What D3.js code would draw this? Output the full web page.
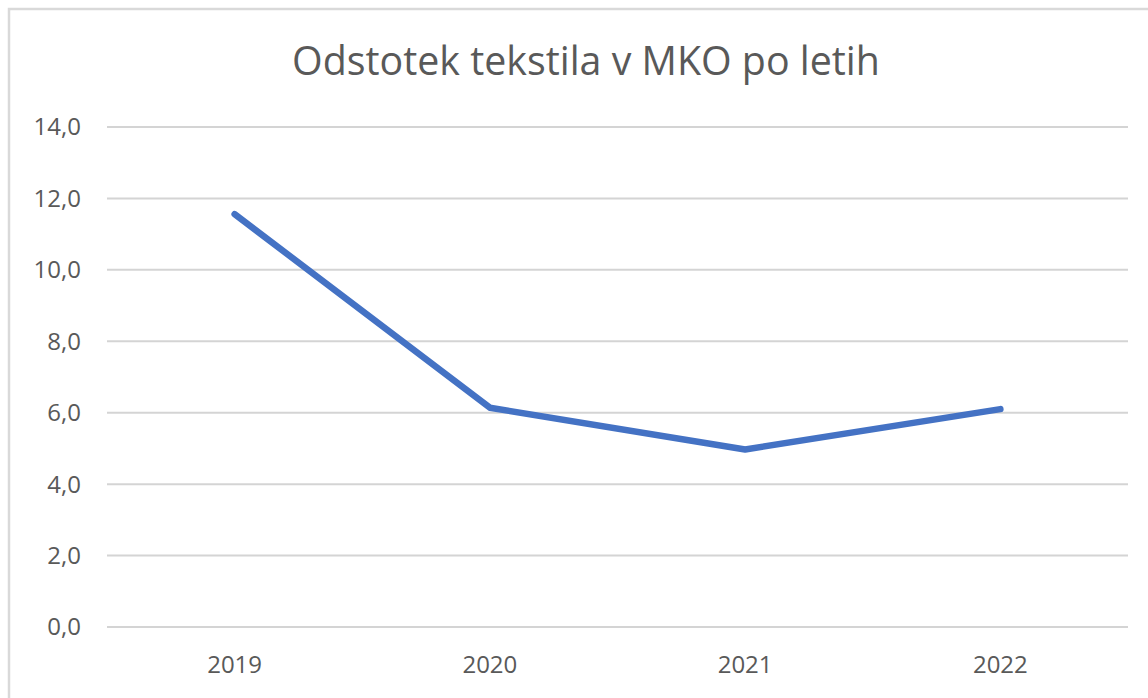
<!DOCTYPE html>
<html>
<head>
<meta charset="utf-8">
<script src="https://cdn.jsdelivr.net/npm/d3@7"></script>
<style>
  html, body { margin: 0; padding: 0; background: #fff; }
  svg { display: block; }
  text { font-family: "Open Sans", sans-serif; fill: #595959; }
</style>
</head>
<body>
<svg></svg>
<script>
// data
const years = ['2019', '2020', '2021', '2022'];
const shares = [11.56, 6.14, 4.97, 6.1];
const yTicks = [0, 2, 4, 6, 8, 10, 12, 14];
const title = 'Odstotek tekstila v MKO po letih';

const width = 1148;
const height = 698;

const svg = d3.select('svg').attr('width', width).attr('height', height);

// chart frame (right and bottom edges fall outside the picture)
svg.append('path')
  .attr('d', `M9,${height + 5} V9 H${width + 5}`)
  .attr('fill', 'none')
  .attr('stroke', '#d9d9d9')
  .attr('stroke-width', 2.5);

const plot = { left: 107, right: 1128, top: 127, bottom: 627 };

const x = d3.scaleBand().domain(years).range([plot.left, plot.right]);
const y = d3.scaleLinear().domain([0, 14]).range([plot.bottom, plot.top]);

const fmt = d => d3.format('.1f')(d).replace('.', ',');

// gridlines
svg.append('g')
  .selectAll('line')
  .data(yTicks)
  .join('line')
    .attr('x1', plot.left)
    .attr('x2', plot.right)
    .attr('y1', d => y(d))
    .attr('y2', d => y(d))
    .attr('stroke', '#d4d4d4')
    .attr('stroke-width', 2);

// y labels
svg.append('g')
  .selectAll('text')
  .data(yTicks)
  .join('text')
    .attr('x', 81)
    .attr('y', d => y(d))
    .attr('dy', '0.35em')
    .attr('text-anchor', 'end')
    .attr('font-size', 24)
    .text(fmt);

// x labels
svg.append('g')
  .selectAll('text')
  .data(years)
  .join('text')
    .attr('x', d => x(d) + x.bandwidth() / 2)
    .attr('y', 673)
    .attr('text-anchor', 'middle')
    .attr('font-size', 24)
    .text(d => d);

// the line
const line = d3.line()
  .x((d, i) => x(years[i]) + x.bandwidth() / 2)
  .y(d => y(d));

svg.append('path')
  .datum(shares)
  .attr('d', line)
  .attr('fill', 'none')
  .attr('stroke', '#4472c4')
  .attr('stroke-width', 6.5)
  .attr('stroke-linecap', 'round')
  .attr('stroke-linejoin', 'round');

// title, sized to the width it takes in the picture
const t = svg.append('text')
  .attr('x', 586)
  .attr('y', 75)
  .attr('text-anchor', 'middle')
  .attr('font-size', 34)
  .text(title);
const w = t.node().getComputedTextLength();
t.attr('font-size', 34 * 588 / w);
</script>
</body>
</html>
